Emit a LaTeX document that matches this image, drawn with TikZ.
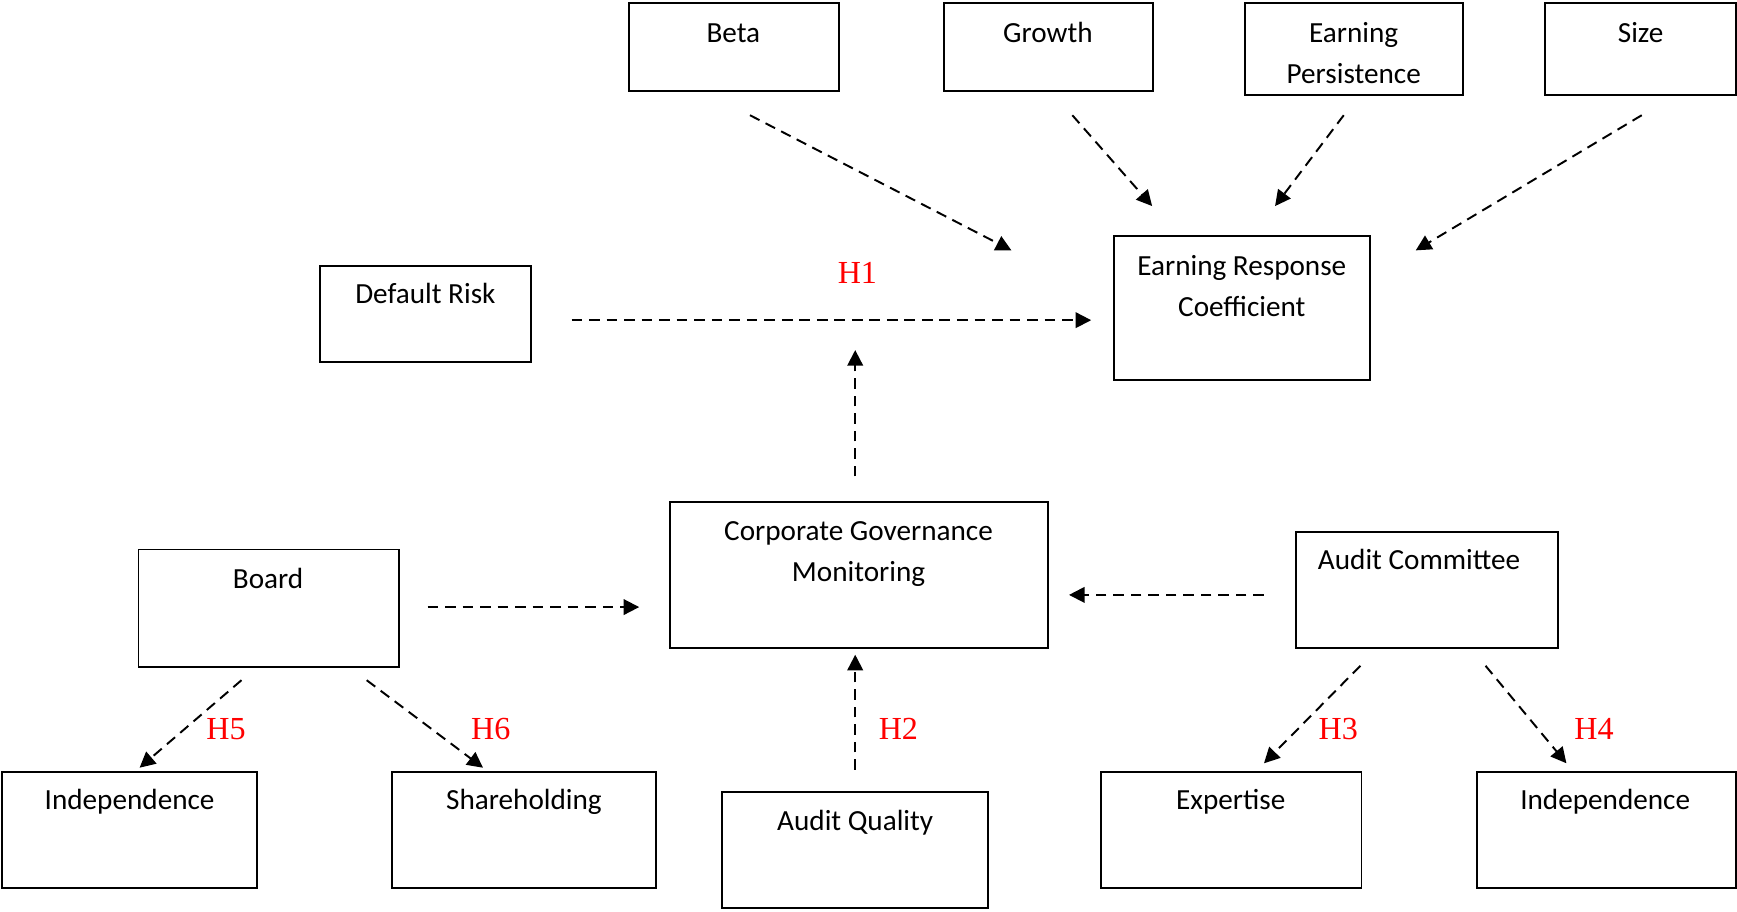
\documentclass[tikz,border=0pt]{standalone}
\usepackage{fontspec}
\setmainfont{Carlito}
\newfontfamily\hfont{Liberation Serif}
\usetikzlibrary{arrows.meta}
\begin{document}
\begin{tikzpicture}[x=0.02cm,y=-0.02cm,
  boxst/.style={draw=black,line width=1pt,inner sep=0pt,outer sep=0pt,anchor=north west},
  txt/.style={anchor=base,inner sep=0pt,font=\fontsize{15}{18}\selectfont},
  hyp/.style={text=red,inner sep=0pt,font=\hfont\fontsize{16.5}{19}\selectfont},
  conn/.style={line width=1pt,dash pattern=on 5.5pt off 3.5pt,-{Triangle[length=8pt,width=8pt]}}]
\useasboundingbox (0,0) rectangle (1568,823);
\newcommand\boxat[5]{\node[boxst,minimum width=#4*0.02cm,minimum height=#5*0.02cm] (#1) at (#2,#3) {};}
% boxes
\boxat{beta}{568}{3}{189}{79}
\boxat{growth}{852}{3}{189}{79}
\boxat{ep}{1124}{3}{197}{83}
\boxat{size}{1395}{3}{172}{83}
\boxat{dr}{289}{240}{190}{87}
\boxat{erc}{1006}{213}{231}{130}
\boxat{cgm}{605}{453}{341}{132}
\boxat{board}{125}{496}{235}{106}
\boxat{ac}{1170}{480}{236}{105}
\boxat{indl}{2}{697}{230}{105}
\boxat{sh}{354}{697}{238}{105}
\boxat{aq}{652}{715}{240}{105}
\boxat{ex}{994}{697}{235}{105}
\boxat{indr}{1333}{697}{234}{105}
% texts
\node[txt] (betat) at (662,38) {Beta};
\node[txt] (growtht) at (946,38) {Growth};
\node[txt] (ept1) at (1222,38) {Earning};
\node[txt] (ept2) at (1222,75) {Persistence};
\node[txt] (sizet) at (1481,38) {Size};
\node[txt] (drt) at (384,274) {Default Risk};
\node[txt] (erct1) at (1121,249) {Earning Response};
\node[txt] (erct2) at (1121,286) {Coefficient};
\node[txt] (cgmt1) at (775,488) {Corporate Governance};
\node[txt] (cgmt2) at (775,525) {Monitoring};
\node[txt] (boardt) at (242,531) {Board};
\node[txt] (act) at (1281,514) {Audit Committee};
\node[txt] (indlt) at (117,731) {Independence};
\node[txt] (sht) at (473,731) {Shareholding};
\node[txt] (aqt) at (772,750) {Audit Quality};
\node[txt] (ext) at (1111,731) {Expertise};
\node[txt] (indrt) at (1449,731) {Independence};
% hypothesis labels
\node[hyp] (h1) at (774,246) {H1};
\node[hyp] (h2) at (811,658) {H2};
\node[hyp] (h3) at (1208,658) {H3};
\node[hyp] (h4) at (1439,658) {H4};
\node[hyp] (h5) at (204,658) {H5};
\node[hyp] (h6) at (443,658) {H6};
% connector end points
\coordinate (a1s) at (677,104); \coordinate (a1e) at (913,226);
\coordinate (a2s) at (968,104); \coordinate (a2e) at (1040,186);
\coordinate (a3s) at (1213,104); \coordinate (a3e) at (1151,186);
\coordinate (a4s) at (1482,104); \coordinate (a4e) at (1278,226);
\coordinate (a5s) at (516,289); \coordinate (a5e) at (985,289);
\coordinate (a6s) at (772,430); \coordinate (a6e) at (772,316);
\coordinate (a7s) at (386,548); \coordinate (a7e) at (577,548);
\coordinate (a8s) at (1141,537); \coordinate (a8e) at (965,537);
\coordinate (a9s) at (772,695); \coordinate (a9e) at (772,591);
\coordinate (b1s) at (218,614); \coordinate (b1e) at (126,693);
\coordinate (b2s) at (331,614); \coordinate (b2e) at (436,693);
\coordinate (b3s) at (1228,601); \coordinate (b3e) at (1141,689);
\coordinate (b4s) at (1341,601); \coordinate (b4e) at (1414,689);
% connectors
\foreach \p in {a1,a2,a3,a4,a5,a6,a7,a8,a9,b1,b2,b3,b4}
  \draw[conn] (\p s) -- (\p e);
\end{tikzpicture}
\end{document}
